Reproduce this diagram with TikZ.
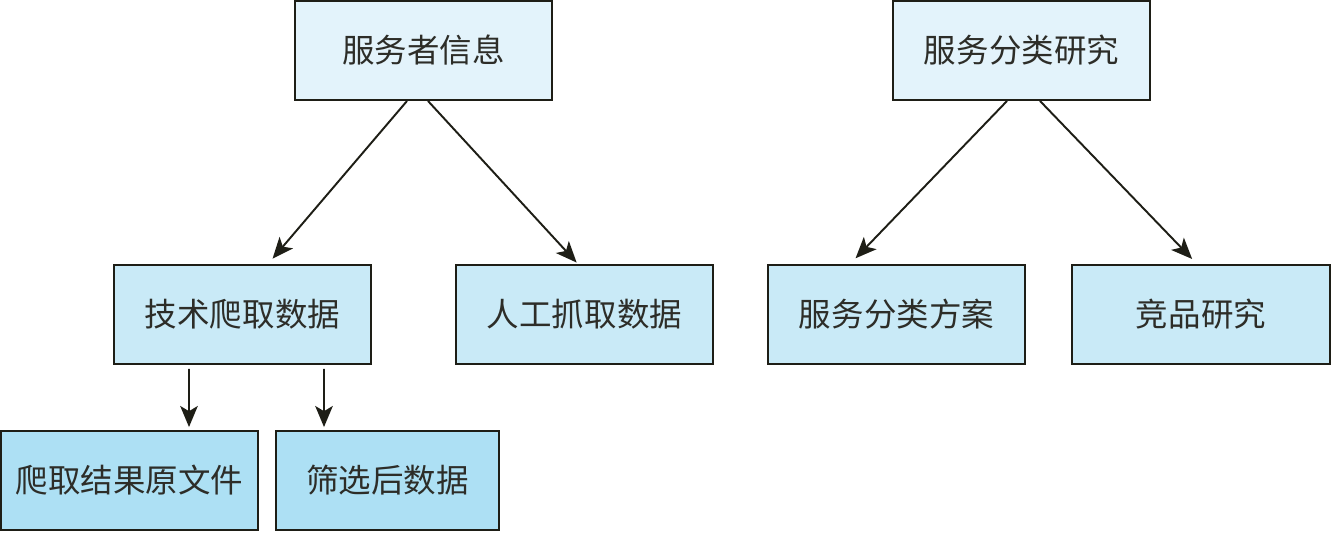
\documentclass[tikz,border=0pt]{standalone}
\usepackage{fontspec}
\setmainfont{Noto Sans CJK SC}
\usetikzlibrary{arrows.meta}
\definecolor{mline}{RGB}{30,30,22}
\definecolor{mtext}{RGB}{45,45,40}
\definecolor{lvlone}{RGB}{227,243,251}
\definecolor{lvltwo}{RGB}{201,234,247}
\definecolor{lvlthree}{RGB}{173,224,244}
\newcommand{\TaskBox}[5][5.14cm]{
  \node [draw=mline,line width=1.1pt,fill=#2,text=mtext,
  minimum width=#1,minimum height=1.98cm,inner sep=0pt,
  font=\fontsize{18.5}{20}\selectfont] (#3) at #4 {#5};
}
\begin{document}
\begin{tikzpicture}[arr/.style={mline,line width=1.1pt,-{Stealth[length=12pt,width=10pt,inset=3pt]}}]
  \useasboundingbox (0,0) rectangle (26.62,-10.64);
  \TaskBox{lvlone}{info}{(8.47,-1.01)}{服务者信息}
  \TaskBox{lvlone}{study}{(20.43,-1.01)}{服务分类研究}
  \TaskBox{lvltwo}{crawl}{(4.85,-6.29)}{技术爬取数据}
  \TaskBox{lvltwo}{manual}{(11.69,-6.29)}{人工抓取数据}
  \TaskBox{lvltwo}{plan}{(17.93,-6.29)}{服务分类方案}
  \TaskBox[5.16cm]{lvltwo}{rival}{(24.02,-6.29)}{竞品研究}
  \TaskBox{lvlthree}{raw}{(2.59,-9.61)}{爬取结果原文件}
  \TaskBox[4.46cm]{lvlthree}{filtered}{(7.75,-9.61)}{筛选后数据}
  % arrows between levels
  \draw[arr,shorten >=0.14cm] ([xshift=-0.33cm]info.south) -- ([xshift=0.51cm]crawl.north);
  \draw[arr,shorten >=0.04cm] ([xshift=0.09cm]info.south) -- ([xshift=-0.13cm]manual.north);
  \draw[arr,shorten >=0.16cm] ([xshift=-0.29cm]study.south) -- ([xshift=-0.93cm]plan.north);
  \draw[arr,shorten >=0.14cm] ([xshift=0.37cm]study.south) -- ([xshift=-0.08cm]rival.north);
  \draw[arr,shorten <=0.08cm,shorten >=0.06cm] ([xshift=-1.07cm]crawl.south) -- ([xshift=1.19cm]raw.north);
  \draw[arr,shorten <=0.08cm,shorten >=0.06cm] ([xshift=1.63cm]crawl.south) -- ([xshift=-1.27cm]filtered.north);
\end{tikzpicture}
\end{document}
